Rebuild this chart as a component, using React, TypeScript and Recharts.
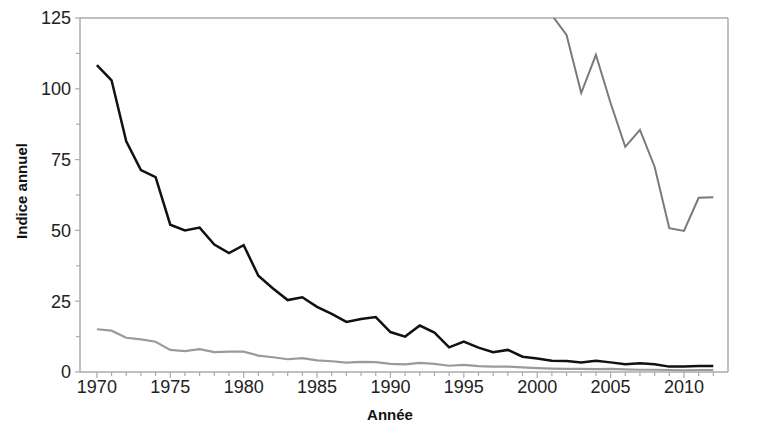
import { Label, Line, LineChart, ReferenceLine, XAxis, YAxis } from "recharts"

const years = [
  1970, 1971, 1972, 1973, 1974, 1975, 1976, 1977, 1978, 1979,
  1980, 1981, 1982, 1983, 1984, 1985, 1986, 1987, 1988, 1989,
  1990, 1991, 1992, 1993, 1994, 1995, 1996, 1997, 1998, 1999,
  2000, 2001, 2002, 2003, 2004, 2005, 2006, 2007, 2008, 2009,
  2010, 2011, 2012,
]

const noire = [
  108.4, 103, 81.5, 71.3, 68.8, 52, 50, 51, 45, 42,
  44.8, 34, 29.5, 25.4, 26.4, 23, 20.5, 17.7, 18.7, 19.4,
  14.1, 12.5, 16.4, 13.9, 8.7, 10.7, 8.6, 7.0, 7.8, 5.4,
  4.8, 4.0, 3.9, 3.4, 4.0, 3.4, 2.7, 3.1, 2.7, 1.9,
  1.9, 2.1, 2.1,
]

const claire = [
  15.1, 14.6, 12.1, 11.5, 10.7, 7.8, 7.4, 8.1, 7.0, 7.2,
  7.2, 5.8, 5.2, 4.5, 4.9, 4.1, 3.8, 3.3, 3.6, 3.5,
  2.9, 2.7, 3.2, 2.9, 2.2, 2.5, 2.1, 1.9, 1.9, 1.6,
  1.4, 1.2, 1.1, 1.1, 1.0, 1.1, 0.9, 0.8, 0.8, 0.7,
  0.6, 0.7, 0.7,
]

const grise = [
  null, null, null, null, null, null, null, null, null, null,
  null, null, null, null, null, null, null, null, null, null,
  null, null, null, null, null, null, null, null, null, null,
  null, 126, 119, 98.5, 112, 95, 79.5, 85.5, 72.5, 50.8,
  49.8, 61.5, 61.7,
]

const yTicks = [0, 12.5, 25, 37.5, 50, 62.5, 75, 87.5, 100, 112.5, 125]
const xTicks = years

const data = years.map((annee, i) => ({
  annee,
  noire: noire[i],
  claire: claire[i],
  grise: grise[i],
}))

const font = "'Liberation Sans', Arial, sans-serif"
const axisColor = "#ababab"

function YTick(props: any) {
  const { x, y, payload } = props
  const major = payload.value % 25 === 0
  return (
    <g>
      <line x1={x - (major ? 5 : 4)} x2={x} y1={y} y2={y} stroke={axisColor} strokeWidth={1.2} />
      {major && (
        <text x={x - 9} y={y} dy="0.36em" textAnchor="end" fontSize={18} fill="#222" fontFamily={font}>
          {payload.value}
        </text>
      )}
    </g>
  )
}

function XTick(props: any) {
  const { x, y, payload } = props
  const major = payload.value % 5 === 0
  return (
    <g>
      <line x1={x} x2={x} y1={y} y2={y + (major ? 6 : 4)} stroke={axisColor} strokeWidth={1.2} />
      {major && (
        <text x={x} y={y + 8} dy="0.71em" textAnchor="middle" fontSize={18} fill="#222" fontFamily={font}>
          {payload.value}
        </text>
      )}
    </g>
  )
}

export default function App() {
  return (
    <div style={{ position: "absolute", left: 0, top: 0, width: 772, height: 430, background: "#fff" }}>
      <LineChart width={772} height={430} data={data} margin={{ top: 18, right: 44, bottom: 0, left: 0 }}>
        <XAxis
          dataKey="annee"
          type="number"
          domain={[1968.85, 2013]}
          ticks={xTicks}
          interval={0}
          tick={<XTick />}
          tickLine={false}
          tickSize={0}
          tickMargin={0}
          height={58}
          stroke={axisColor}
          strokeWidth={1.5}
        >
          <Label
            value="Année"
            position="insideBottom"
            offset={10}
            dx={-14}
            style={{ fontFamily: font, fontSize: 15, fontWeight: "bold", fill: "#111" }}
          />
        </XAxis>
        <YAxis
          type="number"
          domain={[0, 125]}
          allowDataOverflow
          ticks={yTicks}
          interval={0}
          tick={<YTick />}
          tickLine={false}
          tickSize={0}
          tickMargin={0}
          width={80}
          stroke={axisColor}
          strokeWidth={1.5}
        >
          <Label
            value="Indice annuel"
            position="insideLeft"
            angle={-90}
            offset={22}
            dy={-4}
            style={{ fontFamily: font, fontSize: 15, fontWeight: "bold", fill: "#111", textAnchor: "middle" }}
          />
        </YAxis>
        <ReferenceLine y={125} stroke={axisColor} strokeWidth={1.5} />
        <ReferenceLine x={2013} stroke={axisColor} strokeWidth={1.5} />
        <Line type="linear" dataKey="claire" stroke="#9a9a9a" strokeWidth={2.2} dot={false} isAnimationActive={false} />
        <Line type="linear" dataKey="grise" stroke="#7a7a7a" strokeWidth={2} dot={false} connectNulls={false} isAnimationActive={false} />
        <Line type="linear" dataKey="noire" stroke="#111" strokeWidth={2.5} dot={false} isAnimationActive={false} />
      </LineChart>
    </div>
  )
}
